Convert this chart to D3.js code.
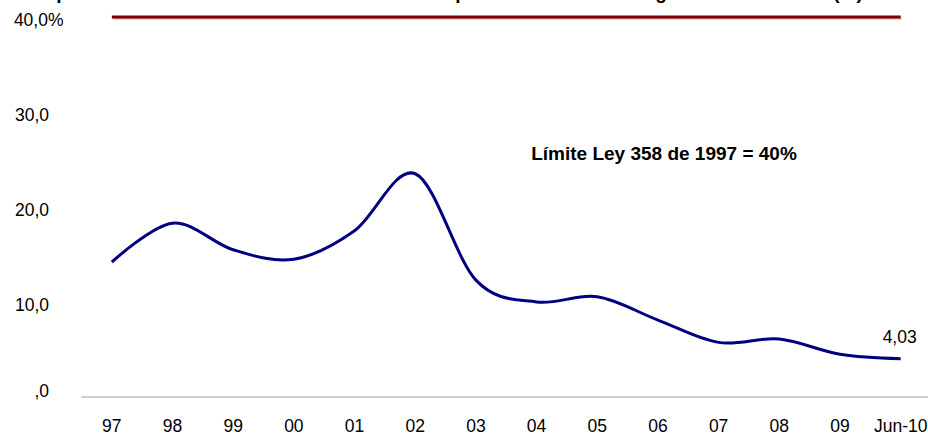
<!DOCTYPE html>
<html>
<head>
<meta charset="utf-8">
<script src="https://cdn.jsdelivr.net/npm/d3@7"></script>
<style>
  html, body { margin: 0; padding: 0; background: #ffffff; }
  svg { display: block; font-family: "Liberation Sans", Arial, sans-serif; }
</style>
</head>
<body>
<svg id="chart" width="928" height="434"></svg>
<script>
// ---- data ----
const categories = ["97", "98", "99", "00", "01", "02", "03", "04", "05", "06", "07", "08", "09", "Jun-10"];
const values = [14.2, 18.3, 15.5, 14.5, 17.5, 23.5, 12.3, 10.0, 10.55, 8.1, 5.75, 6.1, 4.5, 4.03];
const limitValues = [40, 40, 40, 40, 40, 40, 40, 40, 40, 40, 40, 40, 40, 40];
const yTicks = [0, 10, 20, 30, 40];
const yTickLabels = [",0", "10,0", "20,0", "30,0", "40,0%"];
const lastLabel = "4,03";
const limitLabel = "Límite Ley 358 de 1997 = 40%";
// title is clipped by the top edge in the reference: only descenders show
const titleParts = ["Capacidad: intereses sobre ahorro o", "peracional se", "gún norma ", "(%)"];
const titleAnchorChar = [2, 0, 0, 1];
const titleAnchorX = [62, 461, 661, 848];

// ---- layout ----
const svg = d3.select("#chart");
const x = d3.scaleBand().domain(categories).range([81.5, 931]).padding(0);
const y = d3.scaleLinear().domain([0, 40]).range([397, 17]);
const cx = c => x(c) + x.bandwidth() / 2;

// clipped title
const title = svg.append("text")
  .attr("y", -1)
  .attr("font-weight", "bold")
  .attr("font-size", 19)
  .attr("fill", "#000");
titleParts.forEach((t, i) => {
  const ts = title.append("tspan").attr("x", 0).text(t);
  const node = ts.node();
  const idx = titleAnchorChar[i];
  let before = 0, w = 10;
  try {
    before = idx > 0 ? node.getSubStringLength(0, idx) : 0;
    w = node.getSubStringLength(idx, 1);
  } catch (e) {}
  ts.attr("x", titleAnchorX[i] - before - w / 2);
});

// x axis
const xAxis = svg.append("g")
  .attr("transform", `translate(0,${y(0)})`)
  .call(d3.axisBottom(x).tickSize(0).tickPadding(0));
xAxis.select(".domain").attr("stroke", "#bfbfbf").attr("stroke-width", 1.5)
  .attr("d", `M81.5,0H928`);
xAxis.selectAll(".tick text")
  .attr("font-family", "Liberation Sans, Arial, sans-serif")
  .attr("font-size", 17.5)
  .attr("fill", "#000")
  .attr("dy", null)
  .attr("y", 34.5);

// y tick labels
const yAxis = svg.append("g")
  .attr("transform", "translate(49,0)")
  .call(d3.axisLeft(y).tickValues(yTicks).tickSize(0).tickPadding(0)
    .tickFormat((d, i) => yTickLabels[i]));
yAxis.select(".domain").remove();
yAxis.selectAll(".tick text")
  .attr("font-family", "Liberation Sans, Arial, sans-serif")
  .attr("font-size", 17.5)
  .attr("fill", "#000")
  .attr("dy", d => d === 0 ? "-0.05em" : "0.5em")
  .attr("x", d => d === 40 ? 14.5 : 0);

// limit line (with light shadow)
const line = d3.line().x((d, i) => cx(categories[i])).y(d => y(d));
svg.append("path")
  .datum(limitValues)
  .attr("fill", "none")
  .attr("stroke", "#e0a8a8")
  .attr("stroke-width", 2)
  .attr("transform", "translate(1,1.6)")
  .attr("d", line);
svg.append("path")
  .datum(limitValues)
  .attr("fill", "none")
  .attr("stroke", "#800000")
  .attr("stroke-width", 3)
  .attr("d", line);

// main series
const smooth = d3.line()
  .x((d, i) => cx(categories[i]))
  .y(d => y(d))
  .curve(d3.curveCardinal.tension(0));
svg.append("path")
  .datum(values)
  .attr("fill", "none")
  .attr("stroke", "#000080")
  .attr("stroke-width", 3)
  .attr("stroke-linejoin", "round")
  .attr("d", smooth);

// labels
svg.append("text")
  .attr("x", cx(categories[categories.length - 1]) - 1)
  .attr("y", y(values[values.length - 1]) - 16)
  .attr("text-anchor", "middle")
  .attr("font-size", 17.5)
  .attr("fill", "#000")
  .text(lastLabel);

svg.append("text")
  .attr("x", 664)
  .attr("y", 159.5)
  .attr("text-anchor", "middle")
  .attr("font-weight", "bold")
  .attr("font-size", 19)
  .attr("fill", "#000")
  .text(limitLabel);
</script>
</body>
</html>
